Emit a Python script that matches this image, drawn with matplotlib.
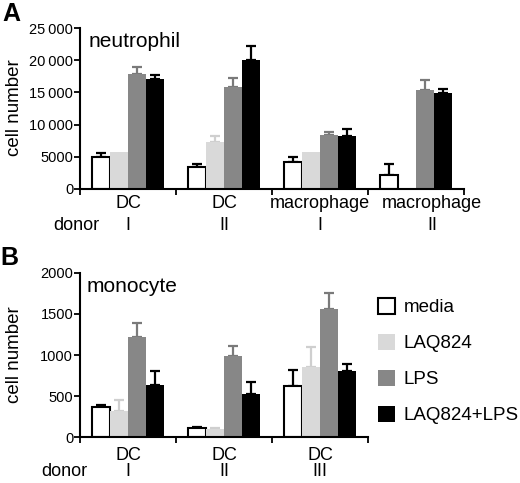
import numpy as np
import matplotlib
matplotlib.use('Agg')
import matplotlib.pyplot as plt
from matplotlib.transforms import blended_transform_factory

plt.rcParams['font.family'] = ['Liberation Sans', 'DejaVu Sans']

# treatments and colours
treatments = ['media', 'LAQ824', 'LPS', 'LAQ824+LPS']
face_colors = ['white', '#d9d9d9', '#878787', 'black']
err_colors = ['black', '#cfcfcf', '#7a7a7a', 'black']

# panel A: neutrophil
a_cells = ['DC', 'DC', 'macrophage', 'macrophage']
a_donors = ['I', 'II', 'I', 'II']
a_media = [5000, 3420, 4160, 2210]
a_media_err = [630, 480, 840, 1630]
a_laq = [5740, 7210, 5790, 0]
a_laq_err = [0, 950, 0, 0]
a_lps = [17840, 15840, 8420, 15370]
a_lps_err = [1110, 1420, 480, 1530]
a_laq_lps = [17100, 20100, 8210, 14950]
a_laq_lps_err = [530, 2160, 1160, 580]
a_yticks = [0, 5000, 10000, 15000, 20000, 25000]
a_yticklabels = ['0', '5000', '10\u2009000', '15\u2009000', '20\u2009000', '25\u2009000']

# panel B: monocyte
b_cells = ['DC', 'DC', 'DC']
b_donors = ['I', 'II', 'III']
b_media = [372, 113, 628]
b_media_err = [17, 8, 192]
b_laq = [318, 100, 849]
b_laq_err = [134, 5, 251]
b_lps = [1222, 983, 1556]
b_lps_err = [171, 122, 201]
b_laq_lps = [632, 531, 808]
b_laq_lps_err = [176, 138, 87]
b_yticks = [0, 500, 1000, 1500, 2000]

W, H = 520, 483


def draw_panel(ax, series, errs, cells, donors, yticks, yticklabels, title, label_shift,
               cell_y, donor_y):
    n = len(cells)
    x = np.arange(n)
    w = 0.1875
    bars = []
    for i, (vals, err) in enumerate(zip(series, errs)):
        pos = x + (i - 1.5) * w
        b = ax.bar(pos, vals, w, color=face_colors[i], edgecolor='black' if i == 0 else face_colors[i],
                   linewidth=1.5 if i == 0 else 0, label=treatments[i], zorder=2)
        bars.append(b)
        err = np.array(err)
        m = err > 0
        if m.any():
            ax.errorbar(pos[m], np.array(vals)[m], yerr=[np.zeros(m.sum()), err[m]],
                        fmt='none', ecolor=err_colors[i], elinewidth=1.6, capsize=3.5,
                        capthick=1.6, zorder=1)
    ax.set_xlim(-0.5, n - 0.5)
    ax.set_ylim(0, yticks[-1])
    ax.set_yticks(yticks)
    ax.set_yticklabels(yticklabels, fontsize=10.5)
    ax.set_xticks(np.arange(n + 1) - 0.5)
    ax.set_xticklabels([])
    ax.tick_params(axis='x', which='major', length=4, width=1.3, direction='out')
    ax.tick_params(axis='y', length=4, width=1.3, pad=1)
    for s in ['top', 'right']:
        ax.spines[s].set_visible(False)
    for s in ['left', 'bottom']:
        ax.spines[s].set_linewidth(1.5)
    ax.set_ylabel('cell number', fontsize=13.5)
    ax.text(0.022, 0.975, title, transform=ax.transAxes, fontsize=15, va='top')

    tr = blended_transform_factory(ax.transData, fig.transFigure)
    for xi, c, d, s in zip(x, cells, donors, label_shift):
        ax.text(xi + s, 1 - cell_y / H, c, transform=tr, fontsize=13, ha='center', va='center')
        ax.text(xi + s, 1 - donor_y / H, d, transform=tr, fontsize=13, ha='center', va='center')
    return bars


fig = plt.figure(figsize=(W / 100, H / 100), dpi=100)
ax_a = fig.add_axes([0.154, 0.609, 0.738, 0.333])
ax_b = fig.add_axes([0.154, 0.095, 0.554, 0.340])

draw_panel(ax_a, [a_media, a_laq, a_lps, a_laq_lps],
           [a_media_err, a_laq_err, a_lps_err, a_laq_lps_err],
           a_cells, a_donors, a_yticks, a_yticklabels, 'neutrophil', [0, 0, 0, 0.17],
           204, 226)
bars = draw_panel(ax_b, [b_media, b_laq, b_lps, b_laq_lps],
                  [b_media_err, b_laq_err, b_lps_err, b_laq_lps_err],
                  b_cells, b_donors, b_yticks, [str(t) for t in b_yticks], 'monocyte', [0, 0, 0],
                  455, 472)

ax_a.yaxis.set_label_coords(23 / W, 1 - 108 / H, transform=fig.transFigure)
ax_b.yaxis.set_label_coords(23 / W, 1 - 355 / H, transform=fig.transFigure)

fig.text(53 / W, 1 - 226 / H, 'donor', fontsize=13, va='center')
fig.text(41 / W, 1 - 472 / H, 'donor', fontsize=13, va='center')
fig.text(2 / W, 1 - 14 / H, 'A', fontsize=18, fontweight='bold', va='center')
fig.text(0 / W, 1 - 258 / H, 'B', fontsize=18, fontweight='bold', va='center')

fig.legend(handles=bars, labels=treatments, loc='upper left',
           bbox_to_anchor=(378 / W, 1 - 298 / H), frameon=False, fontsize=13.5,
           handlelength=0.9, handleheight=0.9, handletextpad=0.45, labelspacing=0.95,
           borderpad=0, borderaxespad=0)

fig.savefig('out.png', dpi=100)
